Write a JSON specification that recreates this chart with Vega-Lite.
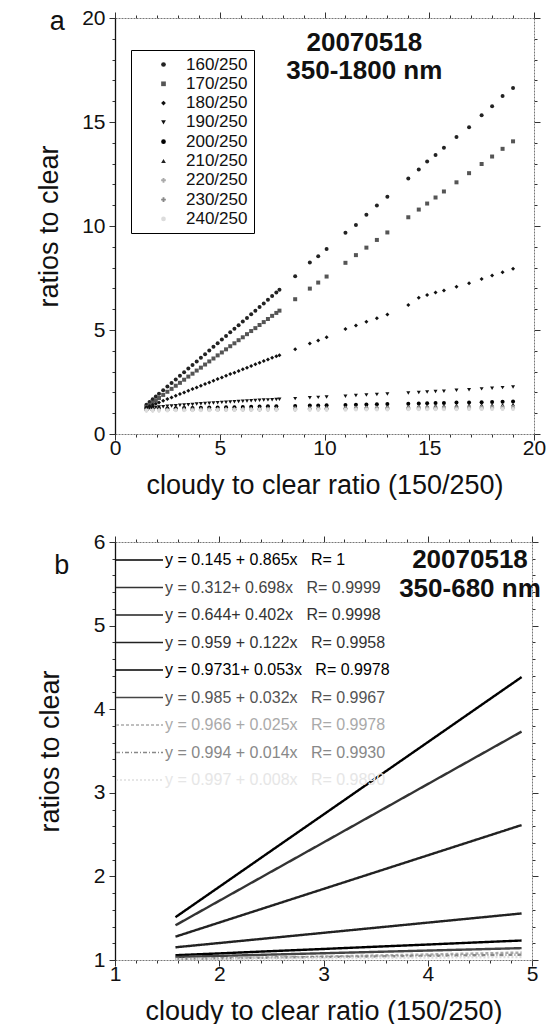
{
"$schema": "https://vega.github.io/schema/vega-lite/v6.json",
"padding": {"left": 35, "top": 7, "right": 5, "bottom": 0},
"background": "white",
"spacing": 33,
"config": {
  "view": {"stroke": null},
  "font": "Liberation Sans",
  "axis": {"labelFont": "Liberation Sans", "titleFont": "Liberation Sans", "labelFontSize": 21, "titleFontSize": 27, "titleFontWeight": "normal", "labelColor": "#111", "titleColor": "#111", "grid": false, "tickColor": "#333", "domainColor": "#777", "domainDash": [2, 1], "labelOverlap": false, "labelBound": false, "labelFlush": false}
},
"resolve": {"scale": {"color": "independent", "shape": "independent", "strokeDash": "independent"}},
"datasets": {
"a": [
{"s":"160/250","x":1.5,"y":1.41},{"s":"160/250","x":1.8,"y":1.67},{"s":"160/250","x":2.1,"y":1.93},{"s":"160/250","x":2.5,"y":2.28},{"s":"160/250","x":2.9,"y":2.62},{"s":"160/250","x":3.3,"y":2.97},{"s":"160/250","x":3.7,"y":3.32},{"s":"160/250","x":4.1,"y":3.67},{"s":"160/250","x":4.5,"y":4.02},{"s":"160/250","x":4.9,"y":4.36},{"s":"160/250","x":5.3,"y":4.71},{"s":"160/250","x":5.7,"y":5.06},{"s":"160/250","x":6.1,"y":5.41},{"s":"160/250","x":6.5,"y":5.76},{"s":"160/250","x":6.9,"y":6.10},{"s":"160/250","x":7.3,"y":6.45},{"s":"160/250","x":7.7,"y":6.80},{"s":"160/250","x":8.6,"y":7.58},{"s":"160/250","x":9.3,"y":8.25},{"s":"160/250","x":9.7,"y":8.54},{"s":"160/250","x":10.1,"y":8.89},{"s":"160/250","x":11.0,"y":9.67},{"s":"160/250","x":11.5,"y":10.05},{"s":"160/250","x":12.0,"y":10.54},{"s":"160/250","x":12.5,"y":10.98},{"s":"160/250","x":13.0,"y":11.41},{"s":"160/250","x":14.0,"y":12.28},{"s":"160/250","x":14.5,"y":12.72},{"s":"160/250","x":14.9,"y":13.10},{"s":"160/250","x":15.3,"y":13.41},{"s":"160/250","x":15.7,"y":13.76},{"s":"160/250","x":16.3,"y":14.28},{"s":"160/250","x":16.9,"y":14.75},{"s":"160/250","x":17.5,"y":15.33},{"s":"160/250","x":18.0,"y":15.76},{"s":"160/250","x":18.5,"y":16.25},{"s":"160/250","x":19.0,"y":16.63},
{"s":"160/250","x":1.65,"y":1.54},{"s":"160/250","x":1.95,"y":1.80},{"s":"160/250","x":2.3,"y":2.10},{"s":"160/250","x":2.7,"y":2.45},{"s":"160/250","x":3.1,"y":2.80},{"s":"160/250","x":3.5,"y":3.15},{"s":"160/250","x":3.9,"y":3.49},{"s":"160/250","x":4.3,"y":3.84},{"s":"160/250","x":4.7,"y":4.19},{"s":"160/250","x":5.1,"y":4.54},{"s":"160/250","x":5.5,"y":4.89},{"s":"160/250","x":5.9,"y":5.23},{"s":"160/250","x":6.3,"y":5.58},{"s":"160/250","x":6.7,"y":5.93},{"s":"160/250","x":7.1,"y":6.28},{"s":"160/250","x":7.5,"y":6.63},{"s":"160/250","x":7.85,"y":6.93},
{"s":"170/250","x":1.5,"y":1.30},{"s":"170/250","x":1.8,"y":1.51},{"s":"170/250","x":2.1,"y":1.73},{"s":"170/250","x":2.5,"y":2.03},{"s":"170/250","x":2.9,"y":2.32},{"s":"170/250","x":3.3,"y":2.61},{"s":"170/250","x":3.7,"y":2.90},{"s":"170/250","x":4.1,"y":3.19},{"s":"170/250","x":4.5,"y":3.49},{"s":"170/250","x":4.9,"y":3.78},{"s":"170/250","x":5.3,"y":4.07},{"s":"170/250","x":5.7,"y":4.36},{"s":"170/250","x":6.1,"y":4.65},{"s":"170/250","x":6.5,"y":4.95},{"s":"170/250","x":6.9,"y":5.24},{"s":"170/250","x":7.3,"y":5.53},{"s":"170/250","x":7.7,"y":5.82},{"s":"170/250","x":8.6,"y":6.48},{"s":"170/250","x":9.3,"y":6.99},{"s":"170/250","x":9.7,"y":7.28},{"s":"170/250","x":10.1,"y":7.57},{"s":"170/250","x":11.0,"y":8.23},{"s":"170/250","x":11.5,"y":8.60},{"s":"170/250","x":12.0,"y":8.96},{"s":"170/250","x":12.5,"y":9.33},{"s":"170/250","x":13.0,"y":9.69},{"s":"170/250","x":14.0,"y":10.42},{"s":"170/250","x":14.5,"y":10.79},{"s":"170/250","x":14.9,"y":11.08},{"s":"170/250","x":15.3,"y":11.37},{"s":"170/250","x":15.7,"y":11.66},{"s":"170/250","x":16.3,"y":12.10},{"s":"170/250","x":16.9,"y":12.54},{"s":"170/250","x":17.5,"y":12.98},{"s":"170/250","x":18.0,"y":13.34},{"s":"170/250","x":18.5,"y":13.71},{"s":"170/250","x":19.0,"y":14.07},
{"s":"170/250","x":1.65,"y":1.40},{"s":"170/250","x":1.95,"y":1.62},{"s":"170/250","x":2.3,"y":1.88},{"s":"170/250","x":2.7,"y":2.17},{"s":"170/250","x":3.1,"y":2.46},{"s":"170/250","x":3.5,"y":2.76},{"s":"170/250","x":3.9,"y":3.05},{"s":"170/250","x":4.3,"y":3.34},{"s":"170/250","x":4.7,"y":3.63},{"s":"170/250","x":5.1,"y":3.92},{"s":"170/250","x":5.5,"y":4.22},{"s":"170/250","x":5.9,"y":4.51},{"s":"170/250","x":6.3,"y":4.80},{"s":"170/250","x":6.7,"y":5.09},{"s":"170/250","x":7.1,"y":5.38},{"s":"170/250","x":7.5,"y":5.68},{"s":"170/250","x":7.85,"y":5.93},
{"s":"180/250","x":1.5,"y":1.28},{"s":"180/250","x":1.8,"y":1.40},{"s":"180/250","x":2.1,"y":1.52},{"s":"180/250","x":2.5,"y":1.68},{"s":"180/250","x":2.9,"y":1.84},{"s":"180/250","x":3.3,"y":2.00},{"s":"180/250","x":3.7,"y":2.16},{"s":"180/250","x":4.1,"y":2.32},{"s":"180/250","x":4.5,"y":2.48},{"s":"180/250","x":4.9,"y":2.64},{"s":"180/250","x":5.3,"y":2.80},{"s":"180/250","x":5.7,"y":2.95},{"s":"180/250","x":6.1,"y":3.11},{"s":"180/250","x":6.5,"y":3.27},{"s":"180/250","x":6.9,"y":3.43},{"s":"180/250","x":7.3,"y":3.58},{"s":"180/250","x":7.7,"y":3.74},{"s":"180/250","x":8.6,"y":4.08},{"s":"180/250","x":9.3,"y":4.35},{"s":"180/250","x":9.7,"y":4.50},{"s":"180/250","x":10.1,"y":4.65},{"s":"180/250","x":11.0,"y":5.05},{"s":"180/250","x":11.5,"y":5.22},{"s":"180/250","x":12.0,"y":5.40},{"s":"180/250","x":12.5,"y":5.57},{"s":"180/250","x":13.0,"y":5.75},{"s":"180/250","x":14.0,"y":6.20},{"s":"180/250","x":14.5,"y":6.55},{"s":"180/250","x":14.9,"y":6.68},{"s":"180/250","x":15.3,"y":6.80},{"s":"180/250","x":15.7,"y":6.90},{"s":"180/250","x":16.3,"y":7.08},{"s":"180/250","x":16.9,"y":7.25},{"s":"180/250","x":17.5,"y":7.45},{"s":"180/250","x":18.0,"y":7.62},{"s":"180/250","x":18.5,"y":7.78},{"s":"180/250","x":19.0,"y":7.95},
{"s":"180/250","x":1.65,"y":1.34},{"s":"180/250","x":1.95,"y":1.46},{"s":"180/250","x":2.3,"y":1.60},{"s":"180/250","x":2.7,"y":1.76},{"s":"180/250","x":3.1,"y":1.92},{"s":"180/250","x":3.5,"y":2.08},{"s":"180/250","x":3.9,"y":2.24},{"s":"180/250","x":4.3,"y":2.40},{"s":"180/250","x":4.7,"y":2.56},{"s":"180/250","x":5.1,"y":2.72},{"s":"180/250","x":5.5,"y":2.88},{"s":"180/250","x":5.9,"y":3.03},{"s":"180/250","x":6.3,"y":3.19},{"s":"180/250","x":6.7,"y":3.35},{"s":"180/250","x":7.1,"y":3.51},{"s":"180/250","x":7.5,"y":3.66},{"s":"180/250","x":7.85,"y":3.79},
{"s":"190/250","x":1.5,"y":1.24},{"s":"190/250","x":1.8,"y":1.27},{"s":"190/250","x":2.1,"y":1.30},{"s":"190/250","x":2.5,"y":1.33},{"s":"190/250","x":2.9,"y":1.36},{"s":"190/250","x":3.3,"y":1.39},{"s":"190/250","x":3.7,"y":1.42},{"s":"190/250","x":4.1,"y":1.45},{"s":"190/250","x":4.5,"y":1.48},{"s":"190/250","x":4.9,"y":1.50},{"s":"190/250","x":5.3,"y":1.53},{"s":"190/250","x":5.7,"y":1.55},{"s":"190/250","x":6.1,"y":1.57},{"s":"190/250","x":6.5,"y":1.60},{"s":"190/250","x":6.9,"y":1.62},{"s":"190/250","x":7.3,"y":1.64},{"s":"190/250","x":7.7,"y":1.66},{"s":"190/250","x":8.6,"y":1.70},{"s":"190/250","x":9.3,"y":1.74},{"s":"190/250","x":9.7,"y":1.76},{"s":"190/250","x":10.1,"y":1.78},{"s":"190/250","x":11.0,"y":1.82},{"s":"190/250","x":11.5,"y":1.85},{"s":"190/250","x":12.0,"y":1.87},{"s":"190/250","x":12.5,"y":1.90},{"s":"190/250","x":13.0,"y":1.92},{"s":"190/250","x":14.0,"y":1.97},{"s":"190/250","x":14.5,"y":2.00},{"s":"190/250","x":14.9,"y":2.02},{"s":"190/250","x":15.3,"y":2.04},{"s":"190/250","x":15.7,"y":2.06},{"s":"190/250","x":16.3,"y":2.10},{"s":"190/250","x":16.9,"y":2.13},{"s":"190/250","x":17.5,"y":2.17},{"s":"190/250","x":18.0,"y":2.20},{"s":"190/250","x":18.5,"y":2.23},{"s":"190/250","x":19.0,"y":2.26},
{"s":"190/250","x":1.65,"y":1.25},{"s":"190/250","x":1.95,"y":1.28},{"s":"190/250","x":2.3,"y":1.31},{"s":"190/250","x":2.7,"y":1.35},{"s":"190/250","x":3.1,"y":1.38},{"s":"190/250","x":3.5,"y":1.41},{"s":"190/250","x":3.9,"y":1.44},{"s":"190/250","x":4.3,"y":1.47},{"s":"190/250","x":4.7,"y":1.49},{"s":"190/250","x":5.1,"y":1.52},{"s":"190/250","x":5.5,"y":1.54},{"s":"190/250","x":5.9,"y":1.56},{"s":"190/250","x":6.3,"y":1.59},{"s":"190/250","x":6.7,"y":1.61},{"s":"190/250","x":7.1,"y":1.63},{"s":"190/250","x":7.5,"y":1.65},{"s":"190/250","x":7.85,"y":1.67},
{"s":"200/250","x":1.5,"y":1.21},{"s":"200/250","x":1.8,"y":1.22},{"s":"200/250","x":2.1,"y":1.22},{"s":"200/250","x":2.5,"y":1.23},{"s":"200/250","x":2.9,"y":1.24},{"s":"200/250","x":3.3,"y":1.25},{"s":"200/250","x":3.7,"y":1.25},{"s":"200/250","x":4.1,"y":1.26},{"s":"200/250","x":4.5,"y":1.27},{"s":"200/250","x":4.9,"y":1.28},{"s":"200/250","x":5.3,"y":1.29},{"s":"200/250","x":5.7,"y":1.29},{"s":"200/250","x":6.1,"y":1.30},{"s":"200/250","x":6.5,"y":1.31},{"s":"200/250","x":6.9,"y":1.32},{"s":"200/250","x":7.3,"y":1.33},{"s":"200/250","x":7.7,"y":1.33},{"s":"200/250","x":8.6,"y":1.35},{"s":"200/250","x":9.3,"y":1.37},{"s":"200/250","x":9.7,"y":1.37},{"s":"200/250","x":10.1,"y":1.38},{"s":"200/250","x":11.0,"y":1.40},{"s":"200/250","x":11.5,"y":1.41},{"s":"200/250","x":12.0,"y":1.42},{"s":"200/250","x":12.5,"y":1.43},{"s":"200/250","x":13.0,"y":1.44},{"s":"200/250","x":14.0,"y":1.46},{"s":"200/250","x":14.5,"y":1.47},{"s":"200/250","x":14.9,"y":1.48},{"s":"200/250","x":15.3,"y":1.49},{"s":"200/250","x":15.7,"y":1.49},{"s":"200/250","x":16.3,"y":1.51},{"s":"200/250","x":16.9,"y":1.52},{"s":"200/250","x":17.5,"y":1.53},{"s":"200/250","x":18.0,"y":1.54},{"s":"200/250","x":18.5,"y":1.55},{"s":"200/250","x":19.0,"y":1.56},
{"s":"210/250","x":1.5,"y":1.19},{"s":"210/250","x":1.8,"y":1.19},{"s":"210/250","x":2.1,"y":1.20},{"s":"210/250","x":2.5,"y":1.20},{"s":"210/250","x":2.9,"y":1.21},{"s":"210/250","x":3.3,"y":1.21},{"s":"210/250","x":3.7,"y":1.22},{"s":"210/250","x":4.1,"y":1.22},{"s":"210/250","x":4.5,"y":1.23},{"s":"210/250","x":4.9,"y":1.23},{"s":"210/250","x":5.3,"y":1.24},{"s":"210/250","x":5.7,"y":1.24},{"s":"210/250","x":6.1,"y":1.25},{"s":"210/250","x":6.5,"y":1.25},{"s":"210/250","x":6.9,"y":1.26},{"s":"210/250","x":7.3,"y":1.26},{"s":"210/250","x":7.7,"y":1.27},{"s":"210/250","x":8.6,"y":1.28},{"s":"210/250","x":9.3,"y":1.29},{"s":"210/250","x":9.7,"y":1.30},{"s":"210/250","x":10.1,"y":1.30},{"s":"210/250","x":11.0,"y":1.31},{"s":"210/250","x":11.5,"y":1.32},{"s":"210/250","x":12.0,"y":1.33},{"s":"210/250","x":12.5,"y":1.33},{"s":"210/250","x":13.0,"y":1.34},{"s":"210/250","x":14.0,"y":1.35},{"s":"210/250","x":14.5,"y":1.36},{"s":"210/250","x":14.9,"y":1.36},{"s":"210/250","x":15.3,"y":1.37},{"s":"210/250","x":15.7,"y":1.37},{"s":"210/250","x":16.3,"y":1.38},{"s":"210/250","x":16.9,"y":1.39},{"s":"210/250","x":17.5,"y":1.40},{"s":"210/250","x":18.0,"y":1.40},{"s":"210/250","x":18.5,"y":1.41},{"s":"210/250","x":19.0,"y":1.42},
{"s":"220/250","x":1.5,"y":1.16},{"s":"220/250","x":1.8,"y":1.16},{"s":"220/250","x":2.1,"y":1.17},{"s":"220/250","x":2.5,"y":1.17},{"s":"220/250","x":2.9,"y":1.17},{"s":"220/250","x":3.3,"y":1.18},{"s":"220/250","x":3.7,"y":1.18},{"s":"220/250","x":4.1,"y":1.18},{"s":"220/250","x":4.5,"y":1.19},{"s":"220/250","x":4.9,"y":1.19},{"s":"220/250","x":5.3,"y":1.19},{"s":"220/250","x":5.7,"y":1.20},{"s":"220/250","x":6.1,"y":1.20},{"s":"220/250","x":6.5,"y":1.20},{"s":"220/250","x":6.9,"y":1.21},{"s":"220/250","x":7.3,"y":1.21},{"s":"220/250","x":7.7,"y":1.21},{"s":"220/250","x":8.6,"y":1.22},{"s":"220/250","x":9.3,"y":1.22},{"s":"220/250","x":9.7,"y":1.23},{"s":"220/250","x":10.1,"y":1.23},{"s":"220/250","x":11.0,"y":1.24},{"s":"220/250","x":11.5,"y":1.24},{"s":"220/250","x":12.0,"y":1.25},{"s":"220/250","x":12.5,"y":1.25},{"s":"220/250","x":13.0,"y":1.25},{"s":"220/250","x":14.0,"y":1.26},{"s":"220/250","x":14.5,"y":1.27},{"s":"220/250","x":14.9,"y":1.27},{"s":"220/250","x":15.3,"y":1.27},{"s":"220/250","x":15.7,"y":1.28},{"s":"220/250","x":16.3,"y":1.28},{"s":"220/250","x":16.9,"y":1.29},{"s":"220/250","x":17.5,"y":1.29},{"s":"220/250","x":18.0,"y":1.29},{"s":"220/250","x":18.5,"y":1.30},{"s":"220/250","x":19.0,"y":1.30},
{"s":"230/250","x":1.5,"y":1.14},{"s":"230/250","x":1.8,"y":1.14},{"s":"230/250","x":2.1,"y":1.14},{"s":"230/250","x":2.5,"y":1.15},{"s":"230/250","x":2.9,"y":1.15},{"s":"230/250","x":3.3,"y":1.15},{"s":"230/250","x":3.7,"y":1.15},{"s":"230/250","x":4.1,"y":1.16},{"s":"230/250","x":4.5,"y":1.16},{"s":"230/250","x":4.9,"y":1.16},{"s":"230/250","x":5.3,"y":1.16},{"s":"230/250","x":5.7,"y":1.17},{"s":"230/250","x":6.1,"y":1.17},{"s":"230/250","x":6.5,"y":1.17},{"s":"230/250","x":6.9,"y":1.17},{"s":"230/250","x":7.3,"y":1.18},{"s":"230/250","x":7.7,"y":1.18},{"s":"230/250","x":8.6,"y":1.18},{"s":"230/250","x":9.3,"y":1.19},{"s":"230/250","x":9.7,"y":1.19},{"s":"230/250","x":10.1,"y":1.19},{"s":"230/250","x":11.0,"y":1.20},{"s":"230/250","x":11.5,"y":1.20},{"s":"230/250","x":12.0,"y":1.20},{"s":"230/250","x":12.5,"y":1.21},{"s":"230/250","x":13.0,"y":1.21},{"s":"230/250","x":14.0,"y":1.21},{"s":"230/250","x":14.5,"y":1.22},{"s":"230/250","x":14.9,"y":1.22},{"s":"230/250","x":15.3,"y":1.22},{"s":"230/250","x":15.7,"y":1.22},{"s":"230/250","x":16.3,"y":1.23},{"s":"230/250","x":16.9,"y":1.23},{"s":"230/250","x":17.5,"y":1.23},{"s":"230/250","x":18.0,"y":1.24},{"s":"230/250","x":18.5,"y":1.24},{"s":"230/250","x":19.0,"y":1.24},
{"s":"240/250","x":1.5,"y":1.13},{"s":"240/250","x":1.8,"y":1.13},{"s":"240/250","x":2.1,"y":1.13},{"s":"240/250","x":2.5,"y":1.13},{"s":"240/250","x":2.9,"y":1.14},{"s":"240/250","x":3.3,"y":1.14},{"s":"240/250","x":3.7,"y":1.14},{"s":"240/250","x":4.1,"y":1.14},{"s":"240/250","x":4.5,"y":1.14},{"s":"240/250","x":4.9,"y":1.15},{"s":"240/250","x":5.3,"y":1.15},{"s":"240/250","x":5.7,"y":1.15},{"s":"240/250","x":6.1,"y":1.15},{"s":"240/250","x":6.5,"y":1.15},{"s":"240/250","x":6.9,"y":1.16},{"s":"240/250","x":7.3,"y":1.16},{"s":"240/250","x":7.7,"y":1.16},{"s":"240/250","x":8.6,"y":1.16},{"s":"240/250","x":9.3,"y":1.17},{"s":"240/250","x":9.7,"y":1.17},{"s":"240/250","x":10.1,"y":1.17},{"s":"240/250","x":11.0,"y":1.17},{"s":"240/250","x":11.5,"y":1.18},{"s":"240/250","x":12.0,"y":1.18},{"s":"240/250","x":12.5,"y":1.18},{"s":"240/250","x":13.0,"y":1.18},{"s":"240/250","x":14.0,"y":1.19},{"s":"240/250","x":14.5,"y":1.19},{"s":"240/250","x":14.9,"y":1.19},{"s":"240/250","x":15.3,"y":1.19},{"s":"240/250","x":15.7,"y":1.19},{"s":"240/250","x":16.3,"y":1.19},{"s":"240/250","x":16.9,"y":1.20},{"s":"240/250","x":17.5,"y":1.20},{"s":"240/250","x":18.0,"y":1.20},{"s":"240/250","x":18.5,"y":1.20},{"s":"240/250","x":19.0,"y":1.20}
],
"b": [
{"k":1,"x":1.58,"y":1.512},{"k":1,"x":2.0,"y":1.875},{"k":1,"x":2.5,"y":2.308},{"k":1,"x":3.0,"y":2.74},{"k":1,"x":3.5,"y":3.173},{"k":1,"x":4.0,"y":3.605},{"k":1,"x":4.5,"y":4.038},{"k":1,"x":4.9,"y":4.384},
{"k":2,"x":1.58,"y":1.415},{"k":2,"x":2.0,"y":1.708},{"k":2,"x":2.5,"y":2.057},{"k":2,"x":3.0,"y":2.406},{"k":2,"x":3.5,"y":2.755},{"k":2,"x":4.0,"y":3.104},{"k":2,"x":4.5,"y":3.453},{"k":2,"x":4.9,"y":3.732},
{"k":3,"x":1.58,"y":1.279},{"k":3,"x":2.0,"y":1.448},{"k":3,"x":2.5,"y":1.649},{"k":3,"x":3.0,"y":1.85},{"k":3,"x":3.5,"y":2.051},{"k":3,"x":4.0,"y":2.252},{"k":3,"x":4.5,"y":2.453},{"k":3,"x":4.9,"y":2.614},
{"k":4,"x":1.58,"y":1.152},{"k":4,"x":2.0,"y":1.203},{"k":4,"x":2.5,"y":1.264},{"k":4,"x":3.0,"y":1.325},{"k":4,"x":3.5,"y":1.386},{"k":4,"x":4.0,"y":1.447},{"k":4,"x":4.5,"y":1.508},{"k":4,"x":4.9,"y":1.557},
{"k":5,"x":1.58,"y":1.057},{"k":5,"x":2.0,"y":1.079},{"k":5,"x":2.5,"y":1.106},{"k":5,"x":3.0,"y":1.132},{"k":5,"x":3.5,"y":1.159},{"k":5,"x":4.0,"y":1.185},{"k":5,"x":4.5,"y":1.212},{"k":5,"x":4.9,"y":1.233},
{"k":6,"x":1.58,"y":1.036},{"k":6,"x":2.0,"y":1.049},{"k":6,"x":2.5,"y":1.065},{"k":6,"x":3.0,"y":1.081},{"k":6,"x":3.5,"y":1.097},{"k":6,"x":4.0,"y":1.113},{"k":6,"x":4.5,"y":1.129},{"k":6,"x":4.9,"y":1.142},
{"k":7,"x":1.58,"y":1.006},{"k":7,"x":2.0,"y":1.016},{"k":7,"x":2.5,"y":1.029},{"k":7,"x":3.0,"y":1.041},{"k":7,"x":3.5,"y":1.054},{"k":7,"x":4.0,"y":1.066},{"k":7,"x":4.5,"y":1.079},{"k":7,"x":4.9,"y":1.089},
{"k":8,"x":1.58,"y":1.016},{"k":8,"x":2.0,"y":1.022},{"k":8,"x":2.5,"y":1.029},{"k":8,"x":3.0,"y":1.036},{"k":8,"x":3.5,"y":1.043},{"k":8,"x":4.0,"y":1.05},{"k":8,"x":4.5,"y":1.057},{"k":8,"x":4.9,"y":1.063},
{"k":9,"x":1.58,"y":1.01},{"k":9,"x":2.0,"y":1.013},{"k":9,"x":2.5,"y":1.017},{"k":9,"x":3.0,"y":1.021},{"k":9,"x":3.5,"y":1.025},{"k":9,"x":4.0,"y":1.029},{"k":9,"x":4.5,"y":1.033},{"k":9,"x":4.9,"y":1.036}
],
"eqs": [
{"k":1,"eq":"y = 0.145 + 0.865x\u00a0\u00a0\u00a0R= 1"},
{"k":2,"eq":"y = 0.312+ 0.698x\u00a0\u00a0\u00a0R= 0.9999"},
{"k":3,"eq":"y = 0.644+ 0.402x\u00a0\u00a0\u00a0R= 0.9998"},
{"k":4,"eq":"y = 0.959 + 0.122x\u00a0\u00a0\u00a0R= 0.9958"},
{"k":5,"eq":"y = 0.9731+ 0.053x\u00a0\u00a0\u00a0R= 0.9978"},
{"k":6,"eq":"y = 0.985 + 0.032x\u00a0\u00a0\u00a0R= 0.9967"},
{"k":7,"eq":"y = 0.966 + 0.025x\u00a0\u00a0\u00a0R= 0.9978"},
{"k":8,"eq":"y = 0.994 + 0.014x\u00a0\u00a0\u00a0R= 0.9930"},
{"k":9,"eq":"y = 0.997 + 0.008x\u00a0\u00a0\u00a0R= 0.9890"}
]
},
"vconcat": [
{
  "width": 419, "height": 416,
  "layer": [
    {
      "data": {"name": "a"},
      "mark": {"type": "point", "filled": true, "size": 16, "opacity": 1},
      "encoding": {
        "x": {"field": "x", "type": "quantitative", "scale": {"domain": [0, 20], "nice": false, "zero": false},
          "axis": {"orient": "bottom", "values": [0,1,2,3,4,5,6,7,8,9,10,11,12,13,14,15,16,17,18,19,20],
            "labelExpr": "datum.value % 5 === 0 ? datum.label : ''",
            "tickSize": {"condition": {"test": "datum.value % 5 === 0", "value": 6}, "value": 3},
            "labelPadding": -3, "title": "cloudy to clear ratio (150/250)", "titlePadding": 14}},
        "y": {"field": "y", "type": "quantitative", "scale": {"domain": [0, 20], "nice": false, "zero": false},
          "axis": {"orient": "left", "values": [0,1,2,3,4,5,6,7,8,9,10,11,12,13,14,15,16,17,18,19,20],
            "labelExpr": "datum.value % 5 === 0 ? datum.label : ''",
            "tickSize": {"condition": {"test": "datum.value % 5 === 0", "value": 6}, "value": 3},
            "labelPadding": 4, "domainColor": "#111", "domainDash": [], "domainWidth": 1.3,
            "title": "ratios to clear", "titlePadding": 18}},
        "color": {"field": "s", "type": "nominal",
          "scale": {"domain": ["160/250","170/250","180/250","190/250","200/250","210/250","220/250","230/250","240/250"],
                    "range": ["#222","#555","#111","#111","#000","#222","#aaa","#888","#dcdcdc"]},
          "legend": {"orient": "none", "legendX": 16, "legendY": 32, "title": null, "padding": 6,
            "labelFont": "Liberation Sans", "labelFontSize": 17, "labelColor": "#111",
            "symbolSize": 22, "rowPadding": 1.3, "symbolOffset": 18, "labelOffset": 14, "fillColor": "white",
            "strokeColor": "#000",
            "encode": {"legend": {"update": {"strokeWidth": {"value": 1.5}}},
                       "labels": {"update": {"fill": {"signal": "datum.index == 8 ? '#e4e4e4' : datum.index == 7 ? '#999' : datum.index == 6 ? '#b0b0b0' : '#111'"}}}}}},
        "shape": {"field": "s", "type": "nominal",
          "scale": {"domain": ["160/250","170/250","180/250","190/250","200/250","210/250","220/250","230/250","240/250"],
                    "range": ["circle","square","diamond","triangle-down","circle","triangle-up","cross","cross","circle"]}}
      }
    },
    {
      "data": {"values": [{}]},
      "mark": {"type": "text", "font": "Liberation Sans", "fontWeight": "bold", "fontSize": 26, "align": "center", "baseline": "middle", "lineHeight": 28, "color": "#111"},
      "encoding": {
        "x": {"datum": 11.9, "type": "quantitative",
          "axis": {"orient": "top", "values": [0,1,2,3,4,5,6,7,8,9,10,11,12,13,14,15,16,17,18,19,20], "labels": false, "title": null,
            "tickSize": {"condition": {"test": "datum.value % 5 === 0", "value": 6}, "value": 3}}},
        "y": {"datum": 18.79, "type": "quantitative",
          "axis": {"orient": "right", "values": [0,1,2,3,4,5,6,7,8,9,10,11,12,13,14,15,16,17,18,19,20], "labels": false, "title": null,
            "tickSize": {"condition": {"test": "datum.value % 5 === 0", "value": 6}, "value": 3}}},
        "text": {"value": ["20070518", "350-1800 nm"]}
      }
    },
    {
      "data": {"values": [{}]},
      "mark": {"type": "text", "font": "Liberation Sans", "fontSize": 27, "align": "center", "baseline": "middle", "color": "#111"},
      "encoding": {
        "x": {"datum": -2.75, "type": "quantitative", "axis": null},
        "y": {"datum": 19.8, "type": "quantitative", "axis": null},
        "text": {"value": "a"}
      }
    }
  ],
  "resolve": {"axis": {"x": "independent", "y": "independent"}}
},
{
  "width": 417, "height": 418,
  "layer": [
    {
      "data": {"name": "b"},
      "transform": [{"lookup": "k", "from": {"data": {"name": "eqs"}, "key": "k", "fields": ["eq"]}}],
      "mark": {"type": "line", "strokeWidth": 2.4},
      "encoding": {
        "x": {"field": "x", "type": "quantitative", "scale": {"domain": [1, 5], "nice": false, "zero": false},
          "axis": {"orient": "bottom", "values": [1,1.2,1.4,1.6,1.8,2,2.2,2.4,2.6,2.8,3,3.2,3.4,3.6,3.8,4,4.2,4.4,4.6,4.8,5],
            "labelExpr": "datum.value % 1 === 0 ? format(datum.value, 'd') : ''",
            "tickSize": {"condition": {"test": "datum.value % 1 === 0", "value": 6}, "value": 3},
            "labelPadding": -3, "title": "cloudy to clear ratio (150/250)", "titlePadding": 14}},
        "y": {"field": "y", "type": "quantitative", "scale": {"domain": [1, 6], "nice": false, "zero": false},
          "axis": {"orient": "left", "values": [1,1.2,1.4,1.6,1.8,2,2.2,2.4,2.6,2.8,3,3.2,3.4,3.6,3.8,4,4.2,4.4,4.6,4.8,5,5.2,5.4,5.6,5.8,6],
            "labelExpr": "datum.value % 1 === 0 ? format(datum.value, 'd') : ''",
            "tickSize": {"condition": {"test": "datum.value % 1 === 0", "value": 6}, "value": 3},
            "labelPadding": 4, "domainColor": "#111", "domainDash": [], "domainWidth": 1.3,
            "title": "ratios to clear", "titlePadding": 29}},
        "color": {"field": "eq", "type": "nominal",
          "scale": {"domain": [
            "y = 0.145 + 0.865x\u00a0\u00a0\u00a0R= 1",
            "y = 0.312+ 0.698x\u00a0\u00a0\u00a0R= 0.9999",
            "y = 0.644+ 0.402x\u00a0\u00a0\u00a0R= 0.9998",
            "y = 0.959 + 0.122x\u00a0\u00a0\u00a0R= 0.9958",
            "y = 0.9731+ 0.053x\u00a0\u00a0\u00a0R= 0.9978",
            "y = 0.985 + 0.032x\u00a0\u00a0\u00a0R= 0.9967",
            "y = 0.966 + 0.025x\u00a0\u00a0\u00a0R= 0.9978",
            "y = 0.994 + 0.014x\u00a0\u00a0\u00a0R= 0.9930",
            "y = 0.997 + 0.008x\u00a0\u00a0\u00a0R= 0.9890"],
            "range": ["#000","#333","#222","#222","#000","#444","#aaa","#888","#dedede"]},
          "legend": {"orient": "none", "legendX": 0, "legendY": 10, "title": null, "padding": 0,
            "symbolType": "stroke", "symbolSize": 2209, "symbolStrokeWidth": 1.3, "clipHeight": 16, "rowPadding": 11.5,
            "labelOffset": 1, "symbolOffset": 0, "labelFont": "Liberation Sans", "labelFontSize": 16, "labelLimit": 400,
            "encode": {"labels": {"update": {"fill": {"signal": "datum.index == 8 ? '#e6e6e6' : datum.index == 7 ? '#888' : datum.index == 6 ? '#aaa' : datum.index == 5 ? '#555' : datum.index == 1 ? '#444' : datum.index == 2 || datum.index == 3 ? '#333' : '#000'"}}}}}},
        "strokeDash": {"field": "eq", "type": "nominal",
          "scale": {"domain": [
            "y = 0.145 + 0.865x\u00a0\u00a0\u00a0R= 1",
            "y = 0.312+ 0.698x\u00a0\u00a0\u00a0R= 0.9999",
            "y = 0.644+ 0.402x\u00a0\u00a0\u00a0R= 0.9998",
            "y = 0.959 + 0.122x\u00a0\u00a0\u00a0R= 0.9958",
            "y = 0.9731+ 0.053x\u00a0\u00a0\u00a0R= 0.9978",
            "y = 0.985 + 0.032x\u00a0\u00a0\u00a0R= 0.9967",
            "y = 0.966 + 0.025x\u00a0\u00a0\u00a0R= 0.9978",
            "y = 0.994 + 0.014x\u00a0\u00a0\u00a0R= 0.9930",
            "y = 0.997 + 0.008x\u00a0\u00a0\u00a0R= 0.9890"],
            "range": [[1,0],[1,0],[1,0],[1,0],[1,0],[1,0],[3,2],[4,2,1,2],[2,2]]}}
      }
    },
    {
      "data": {"values": [{}]},
      "mark": {"type": "text", "font": "Liberation Sans", "fontWeight": "bold", "fontSize": 26, "align": "center", "baseline": "middle", "lineHeight": 29, "color": "#111"},
      "encoding": {
        "x": {"datum": 4.405, "type": "quantitative",
          "axis": {"orient": "top", "values": [1,1.2,1.4,1.6,1.8,2,2.2,2.4,2.6,2.8,3,3.2,3.4,3.6,3.8,4,4.2,4.4,4.6,4.8,5], "labels": false, "title": null,
            "tickSize": {"condition": {"test": "datum.value % 1 === 0", "value": 6}, "value": 3}}},
        "y": {"datum": 5.78, "type": "quantitative",
          "axis": {"orient": "right", "values": [1,1.2,1.4,1.6,1.8,2,2.2,2.4,2.6,2.8,3,3.2,3.4,3.6,3.8,4,4.2,4.4,4.6,4.8,5,5.2,5.4,5.6,5.8,6], "labels": false, "title": null,
            "tickSize": {"condition": {"test": "datum.value % 1 === 0", "value": 6}, "value": 3}}},
        "text": {"value": ["20070518", "350-680 nm"]}
      }
    },
    {
      "data": {"values": [{}]},
      "mark": {"type": "text", "font": "Liberation Sans", "fontSize": 27, "align": "center", "baseline": "middle", "color": "#111"},
      "encoding": {
        "x": {"datum": 0.49, "type": "quantitative", "axis": null},
        "y": {"datum": 5.71, "type": "quantitative", "axis": null},
        "text": {"value": "b"}
      }
    }
  ],
  "resolve": {"axis": {"x": "independent", "y": "independent"}}
}
]
}
